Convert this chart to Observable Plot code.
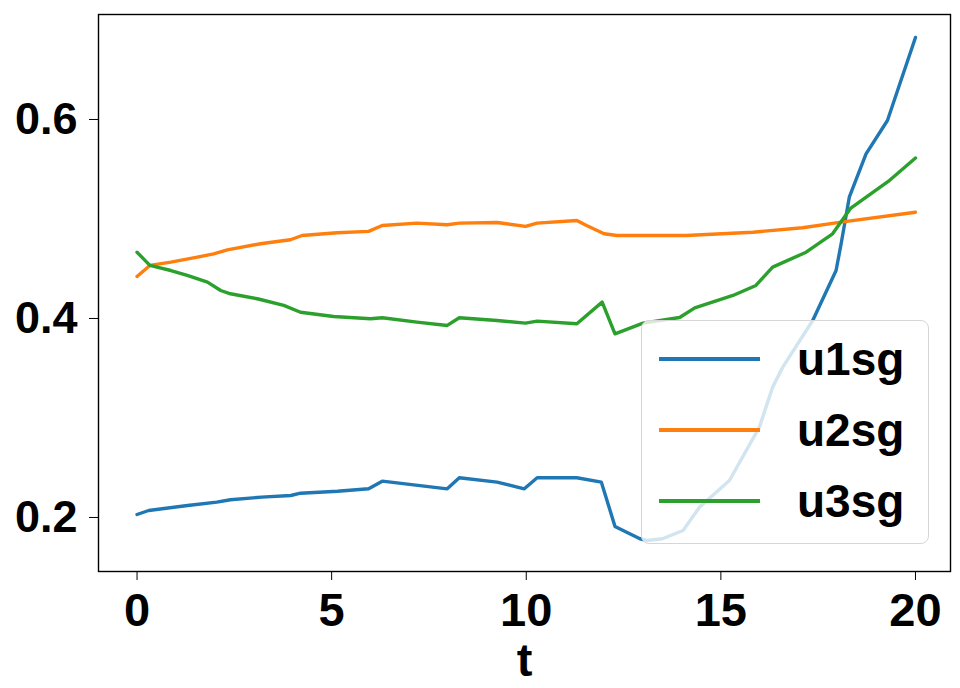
<!DOCTYPE html>
<html>
<head>
<meta charset="utf-8">
<script src="https://cdn.jsdelivr.net/npm/d3@7"></script>
<script src="https://cdn.jsdelivr.net/npm/@observablehq/plot@0.6"></script>
<style>
  html, body { margin: 0; padding: 0; background: #fff; }
  #wrap { position: relative; width: 960px; height: 688px; overflow: hidden; }
  #legend {
    position: absolute; left: 641px; top: 320px; width: 288px; height: 224px;
    box-sizing: border-box; border: 1.5px solid #d6d6d6; border-radius: 8px;
    background: rgba(255,255,255,0.8);
    font-family: "Liberation Sans", Arial, sans-serif; font-weight: bold; font-size: 46px; color: #000;
  }
  .row { position: absolute; left: 0; height: 60px; display: flex; align-items: center; }
  .sw { width: 101px; height: 4px; margin-left: 17px; margin-right: 37px; }
</style>
</head>
<body>
<div id="wrap"></div>
<script>
// Series (t, value)
const series = ["u1sg", "u2sg", "u3sg"];
const colors = ["#1f77b4", "#ff7f0e", "#2ca02c"];

const tU1 = [0,0.3,1.3,2.05,2.4,3.2,3.95,4.2,5.15,5.95,6.3,7.97,8.28,9.25,9.95,10.28,11.3,11.93,12.28,12.92,13.1,13.5,14.03,14.45,15.22,15.99,16.33,16.59,17.36,17.96,18.09,18.3,18.73,19.28,20];
const u1  = [0.203,0.207,0.212,0.2154,0.2178,0.2204,0.2221,0.2244,0.2264,0.2288,0.2365,0.2288,0.2399,0.2355,0.2288,0.2399,0.2399,0.2355,0.191,0.1786,0.1769,0.1786,0.1869,0.2103,0.2372,0.2908,0.331,0.3511,0.398,0.4482,0.4751,0.5219,0.5655,0.599,0.6824];

const tU2 = [0,0.33,0.87,1.55,1.97,2.32,3.17,3.94,4.24,5.14,5.95,6.3,7.19,7.97,8.28,9.25,9.98,10.28,11.3,11.55,12.0,12.33,14.11,15.82,17.1,18.09,20];
const u2  = [0.4422,0.4533,0.4566,0.4616,0.465,0.469,0.4751,0.4791,0.4834,0.4861,0.4875,0.4935,0.4958,0.4942,0.4958,0.4965,0.4925,0.4958,0.4985,0.4935,0.4851,0.4834,0.4834,0.4867,0.4912,0.4968,0.5068];

const tU3 = [0,0.33,0.87,1.29,1.81,2.15,2.4,3.09,3.77,4.2,5.05,6.0,6.3,7.19,7.97,8.28,9.25,9.98,10.28,11.3,11.95,12.28,13.0,13.94,14.33,15.31,15.9,16.33,17.19,17.87,18.33,19.3,20];
const u3  = [0.4666,0.4533,0.4482,0.4432,0.4365,0.4281,0.4248,0.4198,0.4131,0.4063,0.402,0.3997,0.4007,0.3963,0.393,0.4007,0.398,0.3953,0.3973,0.3947,0.4164,0.3846,0.3953,0.401,0.4106,0.4231,0.4332,0.4516,0.4666,0.4851,0.5106,0.5377,0.5613];

const xTicks = [0, 5, 10, 15, 20];
const yTicks = [0.2, 0.4, 0.6];

const toRows = (ts, vs, name) => ts.map((t, i) => ({t, v: vs[i], name}));
const data = [toRows(tU1, u1, series[0]), toRows(tU2, u2, series[1]), toRows(tU3, u3, series[2])];

const chart = Plot.plot({
  width: 960,
  height: 688,
  marginLeft: 98,
  marginRight: 10,
  marginTop: 14,
  marginBottom: 117,
  style: {
    fontFamily: "'Liberation Sans', Arial, sans-serif",
    fontSize: "45px",
    fontWeight: "bold",
    color: "#000",
    background: "#fff",
    overflow: "visible"
  },
  x: {domain: [-0.99, 20.9]},
  y: {domain: [0.1457, 0.7055]},
  marks: [
    ...data.map((rows, i) => Plot.line(rows, {x: "t", y: "v", stroke: colors[i], strokeWidth: 3.4, strokeLinejoin: "round"})),
    Plot.frame({stroke: "#000", strokeWidth: 1.4}),
    Plot.axisX({ticks: xTicks, tickSize: 9, tickPadding: 12, tickFormat: d3.format("d"), label: "t", labelAnchor: "center", labelArrow: "none", labelOffset: 104, fontSize: 47}),
    Plot.axisY({ticks: yTicks, tickSize: 9, tickPadding: 12, tickFormat: d3.format(".1f"), label: null, fontSize: 45})
  ]
});

const wrap = document.getElementById("wrap");
wrap.appendChild(chart);

// legend (inside plot area, semi-transparent like the reference)
const legend = document.createElement("div");
legend.id = "legend";
series.forEach((name, i) => {
  const row = document.createElement("div");
  row.className = "row";
  row.style.top = (8 + i * 71) + "px";
  const sw = document.createElement("span");
  sw.className = "sw";
  sw.style.background = colors[i];
  const lab = document.createElement("span");
  lab.textContent = name;
  row.appendChild(sw);
  row.appendChild(lab);
  legend.appendChild(row);
});
wrap.appendChild(legend);
</script>
</body>
</html>
